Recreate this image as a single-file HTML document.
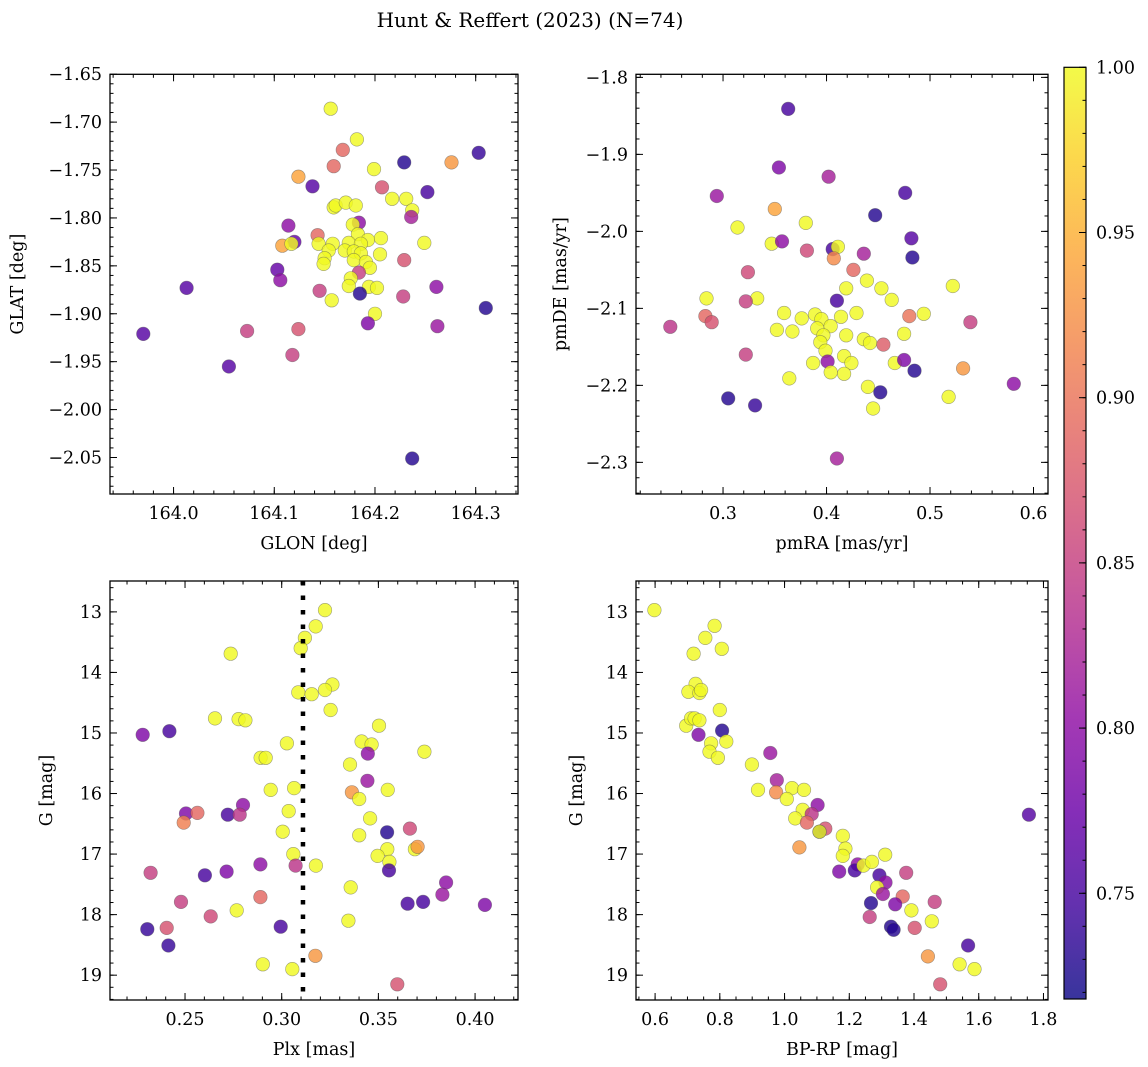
<!DOCTYPE html>
<html><head><meta charset="utf-8">
<style>
html,body{margin:0;padding:0;background:#fff;}
svg{display:block;font-family:"DejaVu Serif","Liberation Serif",serif;}
</style></head>
<body>
<svg id="fig" width="1148" height="1067" viewBox="0 0 1148 1067" xmlns="http://www.w3.org/2000/svg">
<text x="530" y="27" font-size="20" text-anchor="middle">Hunt &amp; Reffert (2023) (N=74)</text>
</svg>
<script>
// ---------- data ----------
const glon = [164.156,164.182,164.168,164.159,164.229,164.276,164.303,164.124,164.138,164.199,164.207,164.252,164.217,164.231,164.237,164.236,164.159,164.161,164.171,164.181,164.114,164.184,164.178,164.183,164.193,164.206,164.249,164.143,164.120,164.108,164.117,164.144,164.158,164.174,164.186,164.170,164.179,164.186,164.154,164.150,164.149,164.205,164.179,164.191,164.195,164.229,164.103,164.106,164.184,164.176,164.174,164.194,164.202,164.261,164.145,164.185,164.157,164.228,164.013,164.310,164.200,164.193,164.262,163.970,164.073,164.124,164.118,164.055,164.237];
const glat = [-1.686,-1.718,-1.729,-1.746,-1.742,-1.742,-1.732,-1.757,-1.767,-1.749,-1.768,-1.773,-1.780,-1.780,-1.792,-1.799,-1.789,-1.787,-1.784,-1.787,-1.808,-1.805,-1.807,-1.817,-1.823,-1.821,-1.826,-1.818,-1.825,-1.829,-1.827,-1.827,-1.827,-1.826,-1.827,-1.834,-1.835,-1.837,-1.834,-1.842,-1.848,-1.838,-1.844,-1.846,-1.852,-1.844,-1.854,-1.865,-1.857,-1.863,-1.871,-1.872,-1.873,-1.872,-1.876,-1.879,-1.886,-1.882,-1.873,-1.894,-1.900,-1.910,-1.913,-1.921,-1.918,-1.916,-1.943,-1.955,-2.051];
const probA = [1,1,0.89,0.89,0.73,0.93,0.74,0.94,0.76,1,0.87,0.75,1,1,1,0.82,1,1,1,1,0.80,0.80,1,1,1,1,1,0.89,0.77,0.94,1,1,1,1,1,1,1,1,1,1,1,1,1,1,1,0.87,0.77,0.80,0.85,1,1,1,1,0.80,0.85,0.73,1,0.85,0.76,0.73,1,0.79,0.81,0.76,0.85,0.87,0.85,0.76,0.73];

const pmra = [0.363,0.354,0.402,0.294,0.476,0.447,0.350,0.380,0.314,0.347,0.357,0.482,0.483,0.381,0.406,0.411,0.407,0.436,0.426,0.324,0.439,0.419,0.453,0.463,0.522,0.284,0.333,0.322,0.410,0.283,0.289,0.249,0.359,0.376,0.389,0.395,0.414,0.429,0.480,0.494,0.539,0.352,0.367,0.391,0.404,0.397,0.419,0.436,0.442,0.455,0.475,0.394,0.399,0.322,0.417,0.387,0.401,0.424,0.466,0.475,0.485,0.404,0.417,0.532,0.364,0.581,0.440,0.452,0.518,0.305,0.331,0.445,0.410];
const pmde = [-1.841,-1.917,-1.929,-1.954,-1.950,-1.979,-1.971,-1.989,-1.995,-2.016,-2.013,-2.009,-2.034,-2.025,-2.023,-2.020,-2.035,-2.029,-2.050,-2.053,-2.064,-2.074,-2.074,-2.089,-2.071,-2.087,-2.087,-2.091,-2.090,-2.110,-2.118,-2.124,-2.106,-2.113,-2.108,-2.114,-2.111,-2.106,-2.110,-2.107,-2.118,-2.128,-2.130,-2.126,-2.123,-2.135,-2.135,-2.140,-2.145,-2.147,-2.133,-2.144,-2.155,-2.160,-2.162,-2.171,-2.169,-2.171,-2.171,-2.167,-2.181,-2.183,-2.185,-2.178,-2.191,-2.198,-2.202,-2.209,-2.215,-2.217,-2.226,-2.230,-2.295];
const probB = [0.75,0.79,0.82,0.81,0.75,0.73,0.94,1,1,1,0.80,0.76,0.73,0.86,0.75,1,0.92,0.82,0.89,0.86,1,1,1,1,1,1,1,0.85,0.75,0.89,0.87,0.84,1,1,1,1,1,1,0.90,1,0.85,1,1,1,1,1,1,1,1,0.88,1,1,1,0.85,1,1,0.80,1,1,0.79,0.73,1,1,0.93,1,0.80,1,0.73,1,0.73,0.74,1,0.82];

const plx = [0.3224,0.3176,0.3120,0.3098,0.2736,0.3262,0.3224,0.3086,0.3155,0.3253,0.2655,0.2777,0.2812,0.3503,0.2281,0.2419,0.3027,0.3413,0.3465,0.3738,0.3445,0.2891,0.2917,0.3353,0.3443,0.2943,0.3064,0.3548,0.3363,0.3401,0.2800,0.2505,0.2564,0.2493,0.2721,0.2783,0.3036,0.3457,0.3005,0.3545,0.3663,0.3401,0.3546,0.3689,0.3703,0.3496,0.3060,0.3557,0.3555,0.3072,0.3177,0.2890,0.2322,0.2603,0.2715,0.3850,0.3357,0.3831,0.4051,0.3651,0.3731,0.2479,0.2890,0.2767,0.2633,0.3345,0.2305,0.2405,0.2995,0.2414,0.3174,0.2902,0.3055,0.3598];
const gmagC = [12.97,13.24,13.43,13.60,13.69,14.20,14.29,14.33,14.36,14.62,14.76,14.77,14.79,14.88,15.03,14.97,15.17,15.14,15.19,15.31,15.34,15.41,15.41,15.52,15.79,15.94,15.91,15.94,15.98,16.09,16.19,16.33,16.32,16.48,16.35,16.35,16.29,16.41,16.63,16.64,16.58,16.69,16.92,16.92,16.88,17.03,17.00,17.13,17.27,17.19,17.19,17.17,17.31,17.35,17.29,17.47,17.55,17.67,17.84,17.82,17.79,17.79,17.71,17.93,18.03,18.10,18.24,18.22,18.20,18.51,18.68,18.82,18.90,19.15];
const probC = [1,1,1,1,1,1,1,1,1,1,1,1,1,1,0.79,0.75,1,1,1,1,0.80,1,1,1,0.81,1,1,1,0.93,1,0.80,0.79,0.89,0.91,0.75,0.84,1,1,1,0.73,0.86,1,1,1,0.93,1,1,1,0.75,0.84,1,0.80,0.85,0.75,0.79,0.80,1,0.81,0.79,0.75,0.75,0.85,0.89,1,0.86,1,0.74,0.87,0.75,0.74,0.93,1,1,0.87];

const bprp = [0.598,0.784,0.755,0.806,0.719,0.725,0.703,0.737,0.742,0.800,0.696,0.711,0.722,0.737,0.734,0.807,0.773,0.820,0.768,0.794,0.956,0.899,0.976,0.918,0.974,1.023,1.060,1.007,1.102,1.056,1.084,1.033,1.069,1.126,1.108,1.108,1.046,1.180,1.188,1.180,1.226,1.217,1.169,1.244,1.270,1.311,1.293,1.312,1.286,1.304,1.376,1.365,1.267,1.342,1.392,1.464,1.263,1.455,1.402,1.329,1.337,1.755,1.567,1.443,1.541,1.587,1.481];
const gmagD = [12.97,13.23,13.43,13.61,13.69,14.19,14.32,14.34,14.29,14.62,14.88,14.76,14.76,14.79,15.03,14.96,15.17,15.14,15.31,15.41,15.33,15.52,15.78,15.94,15.98,15.91,15.94,16.09,16.19,16.27,16.34,16.41,16.48,16.58,16.63,16.63,16.89,16.70,16.91,17.03,17.17,17.27,17.29,17.19,17.13,17.01,17.35,17.47,17.55,17.66,17.31,17.70,17.81,17.83,17.93,17.79,18.04,18.11,18.22,18.20,18.25,16.35,18.51,18.69,18.82,18.90,19.15];
const probD = [1,1,1,1,1,1,1,1,1,1,1,1,1,1,0.79,0.73,1,1,1,1,0.81,1,0.82,1,0.92,1,1,1,0.80,1,0.84,1,0.89,0.87,0.73,1,0.93,1,1,1,0.80,0.75,0.79,1,1,1,0.75,0.80,1,0.81,0.85,0.89,0.73,0.79,1,0.85,0.85,1,0.87,0.73,0.73,0.76,0.75,0.93,1,1,0.87];

const xTicksA = [164.0,164.1,164.2,164.3];
const yTicksA = [-1.65,-1.70,-1.75,-1.80,-1.85,-1.90,-1.95,-2.00,-2.05];
const xTicksB = [0.3,0.4,0.5,0.6];
const yTicksB = [-1.8,-1.9,-2.0,-2.1,-2.2,-2.3];
const xTicksC = [0.25,0.30,0.35,0.40];
const yTicksG = [13,14,15,16,17,18,19];
const xTicksD = [0.6,0.8,1.0,1.2,1.4,1.6,1.8];
const cbTicks = [0.75,0.80,0.85,0.90,0.95,1.00];
const plxRef = [0.311];

// ---------- rendering ----------
const NS = "http://www.w3.org/2000/svg";
const svg = document.getElementById('fig');
const FS = 17.5;
function mk(tag, attrs, parent){
  const e = document.createElementNS(NS, tag);
  for (const k in attrs) e.setAttribute(k, attrs[k]);
  (parent||svg).appendChild(e);
  return e;
}
const stops = ["#0d0887","#41049d","#6a00a8","#8f0da4","#b12a90","#cc4778","#e16462","#f2844b","#fca636","#fcce25","#f0f921"];
function hex(h){return [parseInt(h.slice(1,3),16),parseInt(h.slice(3,5),16),parseInt(h.slice(5,7),16)];}
function plasma(t){
  t=Math.max(0,Math.min(1,t));
  const p=t*10, i=Math.min(9,Math.floor(p)), f=p-i;
  const a=hex(stops[i]), b=hex(stops[i+1]);
  return "rgb("+a.map((v,k)=>Math.round(v+(b[k]-v)*f)).join(",")+")";
}
const VMIN=0.718, VMAX=1.0;
function cmap(v){return plasma((v-VMIN)/(VMAX-VMIN));}
function fmt(v,d){ const s=v.toFixed(d); return s.replace('-','\u2212'); }

function panel(o){
  const g = mk('g',{});
  
  
  const sx = v => o.x0 + (v - o.xd[0])/(o.xd[1]-o.xd[0])*(o.x1-o.x0);
  const sy = v => o.y0 + (v - o.yd[0])/(o.yd[1]-o.yd[0])*(o.y1-o.y0);
  const pts = mk('g',{},g);
  
  
  for (let i=0;i<o.xs.length;i++){
    const c = mk('circle',{cx:sx(o.xs[i]).toFixed(1),cy:sy(o.ys[i]).toFixed(1),r:6.8,fill:cmap(o.cs[i]),'fill-opacity':0.82,stroke:'#555','stroke-opacity':0.55,'stroke-width':0.6},pts);
    
    
  }
  if (o.extra) o.extra(g, sx, sy);
  const tk = mk('g',{stroke:'#000','stroke-width':1},g);
  function xt(v,len){ const x=sx(v); if(x<o.x0-0.5||x>o.x1+0.5) return;
    mk('line',{x1:x,x2:x,y1:o.y1,y2:o.y1-len},tk); mk('line',{x1:x,x2:x,y1:o.y0,y2:o.y0+len},tk);}
  function yt(v,len){ const y=sy(v); if(y<Math.min(o.y0,o.y1)-0.5||y>Math.max(o.y0,o.y1)+0.5) return;
    mk('line',{y1:y,y2:y,x1:o.x0,x2:o.x0+len},tk); mk('line',{y1:y,y2:y,x1:o.x1,x2:o.x1-len},tk);}
  const xa=Math.min(o.xd[0],o.xd[1]), xb=Math.max(o.xd[0],o.xd[1]);
  for (let v=Math.ceil(xa/o.xm)*o.xm; v<=xb; v+=o.xm) xt(v,3.5);
  const ya=Math.min(o.yd[0],o.yd[1]), yb=Math.max(o.yd[0],o.yd[1]);
  for (let v=Math.ceil(ya/o.ym)*o.ym; v<=yb; v+=o.ym) yt(v,3.5);
  o.xt.forEach(v=>xt(v,7)); o.yt.forEach(v=>yt(v,7));
  o.xt.forEach(v=>{ const t=mk('text',{x:sx(v),y:o.y1+25,'font-size':FS,'text-anchor':'middle'},g); t.textContent=fmt(v,o.xdp);
      });
  o.yt.forEach(v=>{ const t=mk('text',{x:o.x0-8,y:sy(v)+6,'font-size':FS,'text-anchor':'end'},g); t.textContent=fmt(v,o.ydp);
      });
  const fr = mk('rect',{x:o.x0,y:Math.min(o.y0,o.y1),width:o.x1-o.x0,height:Math.abs(o.y1-o.y0),fill:'none',stroke:'#000','stroke-width':1.3},g);
  
  
  const xl = mk('text',{x:(o.x0+o.x1)/2,y:o.y1+55,'font-size':FS,'text-anchor':'middle'},g);
  xl.textContent=o.xlabel;
  
  
  const cy=(o.y0+o.y1)/2;
  const yl = mk('text',{x:o.ylx,y:cy,'font-size':FS,'text-anchor':'middle',transform:'rotate(-90 '+o.ylx+' '+cy+')'},g);
  yl.textContent=o.ylabel;
  
  
}

panel({name:'glon-glat-panel',xs:glon,ys:glat,cs:probA,x0:110,x1:518,y0:74.3,y1:494,
  xd:[163.9369,164.3420],yd:[-1.6501,-2.0881],xt:xTicksA,yt:yTicksA,xm:0.02,ym:0.01,xdp:1,ydp:2,
  xlabel:'GLON [deg]',ylabel:'GLAT [deg]',ylx:23});
panel({name:'proper-motion-panel',xs:pmra,ys:pmde,cs:probB,x0:636,x1:1048,y0:74.3,y1:494,
  xd:[0.2159,0.6140],yd:[-1.7960,-2.3411],xt:xTicksB,yt:yTicksB,xm:0.02,ym:0.02,xdp:1,ydp:1,
  xlabel:'pmRA [mas/yr]',ylabel:'pmDE [mas/yr]',ylx:566});
panel({name:'parallax-mag-panel',xs:plx,ys:gmagC,cs:probC,x0:110,x1:518,y0:581,y1:1000,
  xd:[0.2112,0.4222],yd:[12.49,19.41],xt:xTicksC,yt:yTicksG,xm:0.01,ym:0.2,xdp:2,ydp:0,
  xlabel:'Plx [mas]',ylabel:'G [mag]',ylx:52,
  extra:(g,sx,sy)=>{ plxRef.forEach(v=>{ const l=mk('line',{x1:sx(v),x2:sx(v),y1:581,y2:1000,stroke:'#000','stroke-width':4.5,'stroke-dasharray':'4.5 10'},g);
      }); }});
panel({name:'cmd-panel',xs:bprp,ys:gmagD,cs:probD,x0:636,x1:1048,y0:581,y1:1000,
  xd:[0.541,1.814],yd:[12.49,19.41],xt:xTicksD,yt:yTicksG,xm:0.05,ym:0.2,xdp:1,ydp:0,
  xlabel:'BP-RP [mag]',ylabel:'G [mag]',ylx:582});

// colorbar
(function(){
  const x0=1064,x1=1086,y0=67.3,y1=999;
  const g=mk('g',{});
  
  
  const defs=mk('defs',{},g);
  const lg=mk('linearGradient',{id:'cbg',x1:0,y1:1,x2:0,y2:0},defs);
  for(let i=0;i<=20;i++){ mk('stop',{offset:(i/20),'stop-color':plasma(i/20),'stop-opacity':0.82},lg); }
  mk('rect',{x:x0,y:y0,width:x1-x0,height:y1-y0,fill:'url(#cbg)',stroke:'#000','stroke-width':1.2},g);
  const sy=v=>y1-(v-VMIN)/(VMAX-VMIN)*(y1-y0);
  for(let v=0.72; v<=1.0001; v+=0.01){ const y=sy(v); mk('line',{x1:x1,x2:x1-3.5,y1:y,y2:y,stroke:'#000'},g); }
  cbTicks.forEach(v=>{ const y=sy(v); mk('line',{x1:x1,x2:x1-7,y1:y,y2:y,stroke:'#000'},g);
    const t=mk('text',{x:x1+10,y:y+6,'font-size':FS},g); t.textContent=v.toFixed(2);
      });
})();
</script>
</body></html>
